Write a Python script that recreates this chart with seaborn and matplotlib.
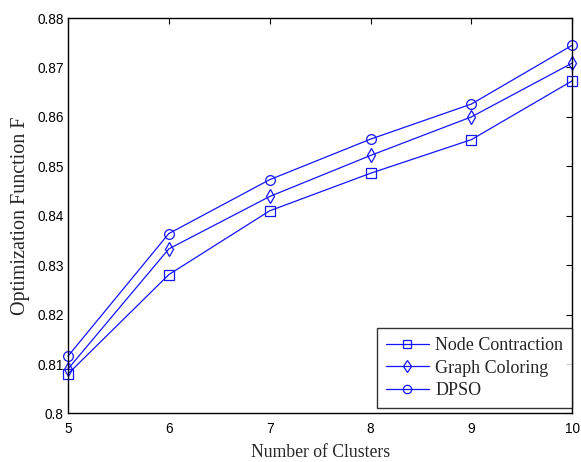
import matplotlib
matplotlib.use("Agg")
import matplotlib.pyplot as plt
import seaborn as sns
import pandas as pd

clusters = [5, 6, 7, 8, 9, 10]
node_contraction = [0.8080, 0.8281, 0.8410, 0.8486, 0.8554, 0.8673]
graph_coloring = [0.8090, 0.8333, 0.8439, 0.8522, 0.8600, 0.8709]
dpso = [0.8116, 0.8364, 0.8473, 0.8555, 0.8626, 0.8745]
series_names = ["Node Contraction", "Graph Coloring", "DPSO"]
x_ticks = [5, 6, 7, 8, 9, 10]
y_ticks = [0.8, 0.81, 0.82, 0.83, 0.84, 0.85, 0.86, 0.87, 0.88]
y_tick_labels = ["0.8", "0.81", "0.82", "0.83", "0.84", "0.85", "0.86", "0.87", "0.88"]

df = pd.DataFrame({
    "clusters": clusters * 3,
    "value": node_contraction + graph_coloring + dpso,
    "method": [series_names[0]] * 6 + [series_names[1]] * 6 + [series_names[2]] * 6,
})

sns.set_style("white")
plt.rcParams["font.family"] = ["Liberation Sans", "DejaVu Sans"]

fig = plt.figure(figsize=(5.81, 4.62), dpi=100)
ax = fig.add_axes([0.117, 0.105, 0.868, 0.856])

blue = "#1414ff"
sns.lineplot(
    data=df, x="clusters", y="value", hue="method", style="method",
    palette={n: blue for n in series_names},
    markers={"Node Contraction": "s", "Graph Coloring": "d", "DPSO": "o"},
    dashes=False, linewidth=0.9, markersize=7, markerfacecolor="none",
    markeredgecolor=blue, markeredgewidth=0.9, ax=ax,
)
for line in ax.lines:
    line.set_clip_on(False)

ax.set_xlim(5, 10)
ax.set_ylim(0.8, 0.88)
ax.set_xticks(x_ticks)
ax.set_xticklabels([str(t) for t in x_ticks])
ax.set_yticks(y_ticks)
ax.set_yticklabels(y_tick_labels)
ax.tick_params(direction="in", length=4, width=0.8, labelsize=9.8,
               top=True, right=True, colors="black", pad=3)
ax.tick_params(axis="x", pad=6)
for s in ax.spines.values():
    s.set_visible(True)
    s.set_color("black")
    s.set_linewidth(1.0)

serif = ["Liberation Serif", "DejaVu Serif"]
ax.set_xlabel("Number of Clusters", fontsize=12.7, family=serif, labelpad=6)
ax.set_ylabel("Optimization Function F", fontsize=14.5, family=serif, labelpad=5)

leg = ax.legend(loc="lower right", bbox_to_anchor=(1.0, 0.014),
                prop={"family": serif, "size": 13},
                frameon=True, fancybox=False, borderpad=0.5,
                handlelength=2.4, handletextpad=0.35, labelspacing=0.3,
                borderaxespad=0.0)
leg.get_frame().set_edgecolor("black")
leg.get_frame().set_linewidth(1.0)
for h in leg.legend_handles:
    h.set_markerfacecolor("none")
    h.set_markeredgecolor(blue)
    h.set_markersize(6)

fig.savefig("out.png", dpi=100)
